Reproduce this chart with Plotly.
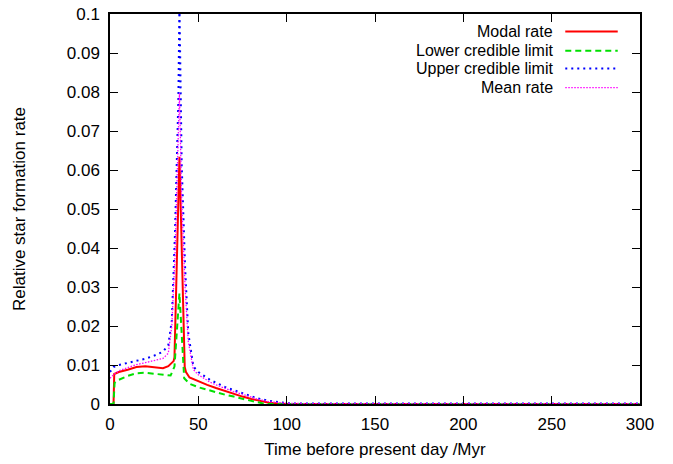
import plotly.graph_objects as go

# Star formation history: time before present (Myr) and relative rate
t_modal = [0, 2, 2.4, 5, 10, 15, 20, 25, 30, 33, 35, 36, 36.5, 39.3, 42.3, 43, 45, 50,
           55, 60, 65, 70, 75, 80, 85, 90, 95, 100, 150, 200, 250, 300]
modal = [0, 0, 0.0077, 0.0082, 0.0088, 0.0095, 0.0097, 0.0095, 0.0092, 0.0097, 0.0106,
         0.011, 0.012, 0.0634, 0.0095, 0.0082, 0.0068, 0.0058, 0.0049, 0.0041, 0.0033,
         0.0026, 0.0019, 0.0013, 0.0008, 0.0003, 0.0001, 0, 0, 0, 0, 0]

t_lower = [0, 2, 2.6, 5, 10, 15, 20, 25, 30, 34.3, 36.5, 39.3, 42.0, 45, 50, 55, 60, 65,
           70, 75, 80, 85, 88, 100, 300]
lower = [0, 0, 0.0054, 0.0062, 0.0072, 0.0079, 0.0080, 0.0078, 0.0075, 0.0073, 0.0096,
         0.0284, 0.0066, 0.0052, 0.0043, 0.0036, 0.0030, 0.0024, 0.0019, 0.0013, 0.0008,
         0.0003, 0, 0, 0]

t_upper = [0, 2, 5, 10, 15, 20, 25, 30, 33, 35, 36.8, 38.7, 39.3, 40.6, 42.5, 44.3, 47.2,
           50, 56.6, 60, 65, 69.8, 75, 83, 90, 94.3, 100, 110, 150, 200, 250, 300]
upper = [0.0082, 0.0095, 0.0100, 0.0105, 0.0110, 0.0116, 0.0124, 0.0134, 0.0151, 0.0215,
         0.044, 0.078, 0.102, 0.061, 0.0352, 0.0182, 0.0096, 0.0082, 0.0062, 0.0054,
         0.0044, 0.0036, 0.0028, 0.0015, 0.0008, 0.0006, 0.0002, 0.0001, 0.0001, 0.0001,
         0.0001, 0.0001]

t_mean = t_upper
mean = [0.0066, 0.0075, 0.0085, 0.0093, 0.0101, 0.0106, 0.0111, 0.0117, 0.0130, 0.0200,
        0.038, 0.068, 0.0797, 0.052, 0.030, 0.016, 0.0088, 0.0075, 0.0056, 0.0049,
        0.0040, 0.0032, 0.0025, 0.0013, 0.0006, 0.0004, 0.0002, 0.0001, 0.0001, 0.0001,
        0.0001, 0.0001]

series_names = ["Modal rate", "Lower credible limit", "Upper credible limit", "Mean rate"]
x_ticks = [0, 50, 100, 150, 200, 250, 300]
y_ticks = [0, 0.01, 0.02, 0.03, 0.04, 0.05, 0.06, 0.07, 0.08, 0.09, 0.1]
y_ticktext = ["0", "0.01", "0.02", "0.03", "0.04", "0.05", "0.06", "0.07", "0.08", "0.09", "0.1"]

styles = [
    dict(color="#ff0000", width=2, dash="solid"),
    dict(color="#00e000", width=2, dash="6px,4px"),
    dict(color="#0000ff", width=2, dash="2px,4px"),
    dict(color="#ff00ff", width=1.3, dash="1.5px,1.5px"),
]

FONT = "Liberation Sans, Arial, sans-serif"
FS = 17
KEY_FS = 16

fig = go.Figure()
for tx, ty, name, st in zip([t_modal, t_lower, t_upper, t_mean],
                            [modal, lower, upper, mean], series_names, styles):
    fig.add_trace(go.Scatter(x=tx, y=ty, mode="lines", name=name, line=st,
                             showlegend=False))

# Key in the upper right: right-aligned labels followed by line samples
row_y = [0.955, 0.906, 0.86, 0.811]
for name, st, ry in zip(series_names, styles, row_y):
    fig.add_annotation(text=name, xref="paper", yref="paper", x=0.838, y=ry,
                       xanchor="right", yanchor="middle", showarrow=False,
                       borderpad=0,
                       font=dict(family=FONT, size=KEY_FS, color="black"))
    fig.add_shape(type="line", xref="paper", yref="paper", x0=0.859, x1=0.958,
                  y0=ry, y1=ry, line=st)

axis_common = dict(showgrid=False, zeroline=False, showline=True, linecolor="black",
                   linewidth=1.5, mirror="ticks", ticks="inside", ticklen=8,
                   tickcolor="black", tickwidth=1.2, automargin=False,
                   tickfont=dict(family=FONT, size=FS, color="black"),
                   title_font=dict(family=FONT, size=FS, color="black"))

fig.update_layout(
    width=673, height=464,
    margin=dict(l=110, r=33, t=14, b=60),
    plot_bgcolor="white", paper_bgcolor="white",
    xaxis=dict(range=[0, 300], tickvals=x_ticks, title_text="Time before present day /Myr",
               title_standoff=10, ticklabelstandoff=4, **axis_common),
    yaxis=dict(range=[0, 0.1], tickvals=y_ticks, ticktext=y_ticktext,
               title_text="Relative star formation rate", title_standoff=37,
               ticklabelstandoff=5, **axis_common),
)

fig.write_html("out.html")
